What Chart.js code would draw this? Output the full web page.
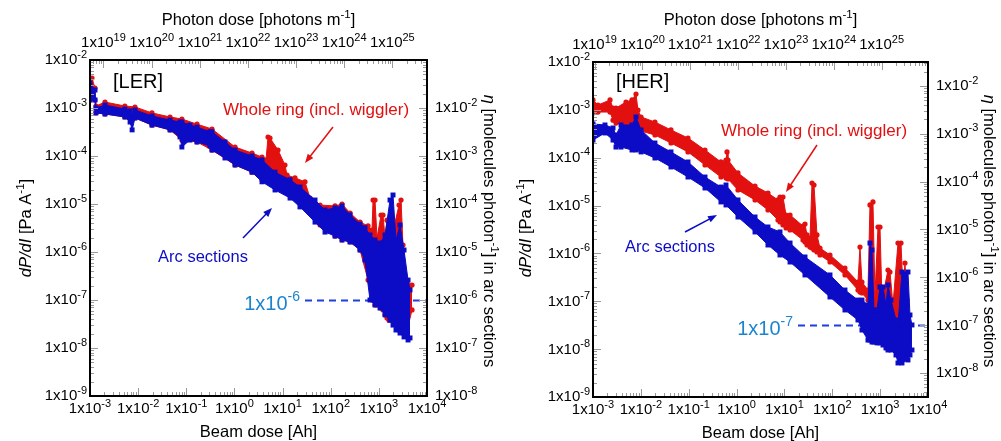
<!DOCTYPE html>
<html lang="en">
<head>
  <meta charset="UTF-8" />
  <title>dP/dI vs beam dose - LER / HER</title>
  <script src="https://cdn.jsdelivr.net/npm/chart.js"></script>
  <style>
    body { margin: 0; background: #fff; }
    .wrap { position: relative; width: 1001px; height: 441px; }
    canvas { position: absolute; top: 0; }
    #chart-ler { left: 0; }
    #chart-her { left: 500px; }
  </style>
</head>
<body>
  <div class="wrap">
    <canvas id="chart-ler" width="500" height="441"></canvas>
    <canvas id="chart-her" width="501" height="441"></canvas>
  </div>

  <script>
    // tick exponents, labels are drawn as 1x10^e
    const beamDoseExp = [-3, -2, -1, 0, 1, 2, 3, 4];
    const dpdiExp = [-9, -8, -7, -6, -5, -4, -3, -2];
    const photonDoseExp = [19, 20, 21, 22, 23, 24, 25];
    const etaExp = [-8, -7, -6, -5, -4, -3, -2];

    // secondary axes: photons m-1 per Ah, eta per (Pa A-1)
    const lerPhotonPerAh = 5.25e21;
    const herPhotonPerAh = 9.3e21;
    const lerEtaFactor = 10;
    const herEtaFactor = 3.16;

    // LER, arc sections (upper / lower edge of the point cloud)
    const lerArcDose = [1.0e-3, 1.27e-3, 1.33e-3, 2.05e-3, 5.3e-3, 6.8e-3, 7.5e-3, 8.6e-3, 1.94e-2, 4.6e-2,
      7.4e-2, 8.1e-2, 0.119, 0.167, 0.311, 0.342, 0.637, 1.03, 2.32, 3.74,
      6.97, 14.3, 23.0, 47.2, 76.2, 123, 172, 252, 406, 515,
      655, 832, 1057, 1343, 1706, 1968, 2270, 2752, 3333, 4039, 4439];
    const lerArcHigh = [3.3e-3, 2.37e-3, 1.0e-3, 1.15e-3, 9.5e-4, 8.7e-4, 7.1e-4, 9.1e-4, 6.8e-4, 5.6e-4,
      5.1e-4, 5.1e-4, 4.4e-4, 4.0e-4, 3.2e-4, 3.2e-4, 1.96e-4, 1.33e-4, 1.0e-4, 8.3e-5,
      4.6e-5, 3.2e-5, 2.26e-5, 1.21e-5, 7.5e-6, 8.3e-6, 9.1e-6, 5.9e-6, 3.8e-6, 3.2e-6,
      2.26e-6, 1.78e-6, 1.54e-6, 2.26e-6, 1.21e-5, 1.54e-5, 1.78e-6, 3.65e-6, 1.1e-6, 2.6e-7, 1.62e-7];
    const lerArcLow = [1.47e-3, 1.47e-3, 7.9e-4, 7.5e-4, 6.5e-4, 5.1e-4, 3.5e-4, 6.2e-4, 4.4e-4, 3.5e-4,
      2.5e-4, 1.54e-4, 2.15e-4, 1.96e-4, 1.62e-4, 1.33e-4, 9.1e-5, 6.5e-5, 4.6e-5, 2.9e-5,
      1.96e-5, 1.33e-5, 8.7e-6, 4.2e-6, 2.6e-6, 2.15e-6, 1.78e-6, 1.62e-6, 1.1e-6, 6.8e-7,
      1.0e-7, 7.9e-8, 6.8e-8, 4.9e-8, 3.8e-8, 3.0e-8, 2.37e-8, 2.05e-8, 1.7e-8, 1.47e-8, 1.62e-8];

    // LER, whole ring
    const lerRingDose = [1.0e-3, 1.10e-3, 1.27e-3, 1.33e-3, 2.05e-3, 5.3e-3, 8.6e-3, 1.94e-2, 4.6e-2, 8.1e-2,
      0.167, 0.342, 1.03, 2.32, 3.74, 4.53, 4.99, 5.48, 8.04, 11.2,
      12.4, 18.1, 29.2, 37.2, 60.0, 123, 172, 252, 406, 596,
      721, 757, 832, 916, 1109, 1220, 1343, 1476, 1625, 1787,
      2624, 2886, 3175, 3664, 4887];
    const lerRingHigh = [3.8e-3, 4.2e-3, 2.61e-3, 1.1e-3, 1.33e-3, 1.1e-3, 1.05e-3, 7.9e-4, 6.5e-4, 5.9e-4,
      4.6e-4, 3.65e-4, 1.54e-4, 1.15e-4, 9.5e-5, 8.3e-5, 2.49e-4, 2.37e-4, 1.33e-4, 6.5e-5,
      4.0e-5, 3.5e-5, 2.9e-5, 1.33e-5, 9.5e-6, 9.1e-6, 1.0e-5, 6.5e-6, 4.2e-6, 3.5e-6,
      2.87e-6, 1.21e-5, 1.21e-5, 1.96e-6, 5.9e-6, 5.9e-6, 1.96e-6, 4.6e-6, 4.6e-6, 1.78e-6,
      9.5e-6, 1.21e-5, 1.4e-6, 2.6e-7, 2.05e-7];
    const lerRingLow = [1.47e-3, 1.87e-3, 1.47e-3, 7.9e-4, 7.5e-4, 6.5e-4, 6.2e-4, 4.4e-4, 3.5e-4, 2.15e-4,
      1.96e-4, 1.33e-4, 6.5e-5, 4.6e-5, 3.2e-5, 3.5e-5, 5.1e-5, 4.6e-5, 4.0e-5, 3.2e-5,
      1.96e-5, 1.54e-5, 9.5e-6, 7.5e-6, 3.65e-6, 2.15e-6, 1.78e-6, 1.62e-6, 1.1e-6, 2.6e-7,
      1.0e-7, 1.0e-7, 7.9e-8, 7.9e-8, 6.8e-8, 6.2e-8, 4.9e-8, 4.2e-8, 3.8e-8, 3.8e-8,
      2.37e-8, 2.37e-8, 2.05e-8, 1.87e-8, 6.2e-8];

    // HER, arc sections
    const herArcDose = [1.0e-3, 1.78e-3, 2.62e-3, 3.02e-3, 3.85e-3, 6.53e-3, 7.91e-3, 1.01e-2, 1.97e-2, 4.26e-2,
      9.66e-2, 0.219, 0.472, 0.601, 1.07, 2.43, 4.53, 8.07, 13.1, 26.9,
      89.5, 184, 344, 417, 557, 613, 675, 743, 859, 993,
      1146, 1324, 1458, 1686, 2142, 2359, 2860, 3817, 4201, 4627];
    const herArcHigh = [5.07e-4, 4.83e-4, 4.18e-4, 2.98e-4, 4.83e-4, 4.83e-4, 7.1e-4, 3.8e-4, 2.03e-4, 1.32e-4,
      8.15e-5, 3.95e-5, 2.44e-5, 2.69e-5, 1.31e-5, 5.77e-6, 3.57e-6, 2.81e-6, 1.65e-6, 8.43e-7,
      3.55e-7, 1.72e-7, 1.06e-7, 1.06e-7, 8.37e-8, 1.65e-6, 1.18e-6, 6.58e-8, 6.58e-8, 1.99e-7,
      1.99e-7, 8.37e-8, 2.19e-7, 1.06e-7, 4.07e-8, 3.2e-8, 4.09e-7, 4.09e-7, 5.17e-8, 3.2e-8];
    const herArcLow = [2.34e-4, 3.29e-4, 2.34e-4, 1.67e-4, 1.67e-4, 1.45e-4, 1.45e-4, 1.32e-4, 9.86e-5, 6.4e-5,
      3.95e-5, 2.33e-5, 1.19e-5, 1.03e-5, 5.77e-6, 2.81e-6, 1.5e-6, 9.28e-7, 6.62e-7, 3.55e-7,
      1.23e-7, 6.58e-8, 4.07e-8, 2.51e-8, 1.55e-8, 1.55e-8, 1.41e-8, 1.41e-8, 1.35e-8, 1.35e-8,
      1.22e-8, 1.06e-8, 9.6e-9, 9.6e-9, 7.55e-9, 5.14e-9, 5.14e-9, 5.94e-9, 7.55e-9, 9.6e-9];

    // HER, whole ring
    const herRingDose = [1.0e-3, 1.27e-3, 2.27e-3, 2.62e-3, 3.02e-3, 4.89e-3, 6.53e-3, 7.91e-3, 8.71e-3, 1.01e-2,
      1.97e-2, 4.26e-2, 9.66e-2, 0.219, 0.472, 0.601, 0.631, 0.662, 1.07, 2.43,
      4.53, 7.33, 8.07, 9.33, 10.8, 13.1, 24.4, 26.9, 29.6, 34.2,
      37.7, 41.5, 47.9, 55.3, 89.5, 184, 344, 379, 417, 557,
      613, 708, 780, 902, 993, 1093, 1458, 1606, 1854, 2359,
      2729, 3000, 3304, 3640];
    const herRingHigh = [1.61e-3, 1.26e-3, 1.61e-3, 1.09e-3, 1.09e-3, 1.46e-3, 1.61e-3, 2.14e-3, 9.93e-4, 7.1e-4,
      5.57e-4, 3.8e-4, 2.58e-4, 1.45e-4, 8.15e-5, 8.96e-5, 1.32e-4, 8.96e-5, 4.8e-5, 2.56e-5,
      1.83e-5, 1.31e-5, 1.51e-5, 1.51e-5, 6.36e-6, 6.36e-6, 3.74e-6, 4.12e-6, 2.43e-6, 2.1e-6,
      2.96e-5, 2.69e-5, 2.43e-6, 1.3e-6, 9.28e-7, 4.96e-7, 2.53e-7, 1.36e-6, 2.53e-7, 1.72e-7,
      1.03e-5, 1.19e-5, 1.36e-7, 3.57e-6, 3.57e-6, 1.06e-7, 4.51e-7, 4.09e-7, 8.37e-8, 1.65e-6,
      1.65e-6, 1.72e-7, 6.31e-7, 1.06e-7];
    const herRingLow = [8.6e-4, 9.0e-4, 9.0e-4, 6.1e-4, 5.3e-4, 4.6e-4, 4.18e-4, 3.98e-4, 3.8e-4, 3.61e-4,
      2.98e-4, 2.03e-4, 1.32e-4, 7.05e-5, 3.95e-5, 3.77e-5, 3.77e-5, 3.59e-5, 2.12e-5, 1.31e-5,
      8.09e-6, 5.0e-6, 4.54e-6, 3.93e-6, 3.4e-6, 3.09e-6, 1.91e-6, 1.73e-6, 1.5e-6, 1.36e-6,
      1.3e-6, 1.18e-6, 1.07e-6, 9.28e-7, 6.62e-7, 3.55e-7, 1.72e-7, 1.56e-7, 1.49e-7, 1.06e-7,
      8.37e-8, 8.37e-8, 6.58e-8, 5.17e-8, 4.48e-8, 4.07e-8, 3.2e-8, 2.77e-8, 2.51e-8, 1.98e-8,
      1.8e-8, 1.71e-8, 1.55e-8, 1.55e-8];

    const FONT = '"Liberation Sans", Arial, Helvetica, sans-serif';
    const RED = '#e31010';
    const BLUE = '#0c0cc6';
    const SKY = '#1c84cf';

    // text with italic / superscript pieces
    function richText(ctx, parts, x, y, size, opts = {}) {
      const align = opts.align || 'center';
      const supSize = opts.supSize || size * 0.7;
      ctx.save();
      ctx.translate(x, y);
      if (opts.rot) ctx.rotate(opts.rot);
      ctx.fillStyle = opts.color || '#000';
      ctx.textAlign = 'left';
      ctx.textBaseline = 'alphabetic';
      const fonts = parts.map(p => (p.i ? 'italic ' : '') + (p.sup ? supSize : size) + 'px ' + FONT);
      const widths = parts.map((p, k) => { ctx.font = fonts[k]; return ctx.measureText(p.t).width; });
      const w = widths.reduce((a, b) => a + b, 0);
      let cx = align === 'right' ? -w : align === 'left' ? 0 : -w / 2;
      parts.forEach((p, k) => {
        ctx.font = fonts[k];
        ctx.fillText(p.t, cx, size * 0.36 - (p.sup ? size * 0.45 : 0));
        cx += widths[k];
      });
      ctx.restore();
    }

    function pow10(e) {
      return [{ t: '1x10' }, { t: String(e), sup: true }];
    }

    function arrow(ctx, x1, y1, x2, y2, color) {
      const a = Math.atan2(y2 - y1, x2 - x1);
      ctx.save();
      ctx.strokeStyle = color;
      ctx.fillStyle = color;
      ctx.lineWidth = 1.5;
      ctx.beginPath();
      ctx.moveTo(x1, y1);
      ctx.lineTo(x2 - 6 * Math.cos(a), y2 - 6 * Math.sin(a));
      ctx.stroke();
      ctx.beginPath();
      ctx.moveTo(x2, y2);
      ctx.lineTo(x2 - 9 * Math.cos(a) + 3.5 * Math.sin(a), y2 - 9 * Math.sin(a) - 3.5 * Math.cos(a));
      ctx.lineTo(x2 - 9 * Math.cos(a) - 3.5 * Math.sin(a), y2 - 9 * Math.sin(a) + 3.5 * Math.cos(a));
      ctx.closePath();
      ctx.fill();
      ctx.restore();
    }

    // log ticks (major + minor) of one axis, pointing into the plot
    function logTicks(ctx, scale, horizontal, edge, dir) {
      const lo = Math.floor(Math.log10(scale.min)), hi = Math.ceil(Math.log10(scale.max));
      ctx.save();
      ctx.strokeStyle = '#9a9a9a';
      ctx.lineWidth = 1;
      ctx.beginPath();
      for (let e = lo; e <= hi; e++) {
        for (let m = 1; m <= 9; m++) {
          const v = m * Math.pow(10, e);
          if (v < scale.min * 0.999 || v > scale.max * 1.001) continue;
          const p = Math.round(scale.getPixelForValue(v)) + 0.5;
          const len = m === 1 ? 8 : 4;
          if (horizontal) { ctx.moveTo(p, edge); ctx.lineTo(p, edge + dir * len); }
          else { ctx.moveTo(edge, p); ctx.lineTo(edge + dir * len, p); }
        }
      }
      ctx.stroke();
      ctx.restore();
    }

    function band(xs, hi, lo, color, style, radius) {
      const common = {
        borderColor: color, backgroundColor: color, borderWidth: 1,
        pointStyle: style, pointRadius: radius, pointBorderWidth: 0,
        pointBackgroundColor: color, tension: 0
      };
      return [
        { ...common, data: xs.map((x, i) => ({ x, y: hi[i] })), fill: '+1' },
        { ...common, data: xs.map((x, i) => ({ x, y: lo[i] })), fill: false }
      ];
    }

    function makeChart(cfg) {
      const decor = {
        id: 'decor',
        beforeDatasetsDraw(chart) {
          const ctx = chart.ctx, a = chart.chartArea;
          const y = Math.round(chart.scales.yRight.getPixelForValue(cfg.markEta)) + 0.5;
          ctx.save();
          ctx.strokeStyle = '#1f3fe0';
          ctx.lineWidth = 2;
          ctx.setLineDash([7, 5]);
          ctx.beginPath();
          ctx.moveTo(cfg.markX + 5, y);
          ctx.lineTo(a.right, y);
          ctx.stroke();
          ctx.restore();
          richText(ctx, pow10(cfg.markExp), cfg.markX, y + 2, 20, { align: 'right', color: SKY, supSize: 14 });
        },
        afterDatasetsDraw(chart) {
          const ctx = chart.ctx, a = chart.chartArea, s = chart.scales;
          logTicks(ctx, s.x, true, a.bottom, -1);
          logTicks(ctx, s.xTop, true, a.top, 1);
          logTicks(ctx, s.y, false, a.left, 1);
          logTicks(ctx, s.yRight, false, a.right, -1);

          ctx.save();
          ctx.strokeStyle = '#000';
          ctx.lineWidth = 2;
          ctx.strokeRect(a.left, a.top, a.right - a.left, a.bottom - a.top);
          ctx.restore();

          beamDoseExp.forEach(e => richText(ctx, pow10(e), s.x.getPixelForValue(Math.pow(10, e)), a.bottom + 12, 15, { supSize: 11 }));
          photonDoseExp.forEach(e => richText(ctx, pow10(e), s.xTop.getPixelForValue(Math.pow(10, e)), a.top - 18, 15, { supSize: 11 }));
          dpdiExp.forEach(e => richText(ctx, pow10(e), a.left - 3, s.y.getPixelForValue(Math.pow(10, e)) - 1, 15, { align: 'right', supSize: 11 }));
          etaExp.forEach(e => richText(ctx, pow10(e), a.right + 8, s.yRight.getPixelForValue(Math.pow(10, e)) - 1, 15, { align: 'left', supSize: 11 }));

          const cx = (a.left + a.right) / 2;
          richText(ctx, [{ t: 'Beam dose [Ah]' }], cx, a.bottom + 35, 16.5);
          richText(ctx, [{ t: 'Photon dose [photons m' }, { t: '-1', sup: true }, { t: ']' }], cx, 19, 16.5);
          richText(ctx, [{ t: 'dP/dI', i: true }, { t: ' [Pa A' }, { t: '-1', sup: true }, { t: ']' }],
            25, 228, 16.5, { rot: -Math.PI / 2 });
          richText(ctx, [{ t: 'η', i: true }, { t: ' [molecules photon' }, { t: '-1', sup: true }, { t: '] in arc sections' }],
            cfg.etaTitleX, 231, 16.5, { rot: Math.PI / 2 });

          richText(ctx, [{ t: cfg.tag }], a.left + 23, 81, 20, { align: 'left' });
          richText(ctx, [{ t: 'Whole ring (incl. wiggler)' }], cfg.ringText[0], cfg.ringText[1], 17, { color: RED });
          richText(ctx, [{ t: 'Arc sections' }], cfg.arcText[0], cfg.arcText[1], 16.5, { color: BLUE });
          arrow(ctx, ...cfg.ringArrow, RED);
          arrow(ctx, ...cfg.arcArrow, BLUE);
        }
      };

      return new Chart(document.getElementById(cfg.canvas), {
        type: 'line',
        data: {
          datasets: [
            ...band(cfg.arcDose, cfg.arcHigh, cfg.arcLow, BLUE, 'rect', 3.5),
            ...band(cfg.ringDose, cfg.ringHigh, cfg.ringLow, RED, 'circle', 2.6)
          ]
        },
        options: {
          responsive: false,
          animation: false,
          layout: { padding: cfg.padding },
          plugins: { legend: { display: false }, tooltip: { enabled: false } },
          scales: {
            x: { type: 'logarithmic', min: 1e-3, max: 1e4, display: false },
            y: { type: 'logarithmic', min: 1e-9, max: 1e-2, display: false },
            xTop: { type: 'logarithmic', position: 'top', min: 1e-3 * cfg.photonPerAh, max: 1e4 * cfg.photonPerAh, display: false },
            yRight: { type: 'logarithmic', position: 'right', min: 1e-9 * cfg.etaFactor, max: 1e-2 * cfg.etaFactor, display: false }
          }
        },
        plugins: [decor]
      });
    }

    makeChart({
      canvas: 'chart-ler', tag: '[LER]',
      padding: { left: 90, right: 73, top: 60, bottom: 45 },
      photonPerAh: lerPhotonPerAh, etaFactor: lerEtaFactor,
      arcDose: lerArcDose, arcHigh: lerArcHigh, arcLow: lerArcLow,
      ringDose: lerRingDose, ringHigh: lerRingHigh, ringLow: lerRingLow,
      markEta: 1e-6, markExp: -6, markX: 300,
      etaTitleX: 490,
      ringText: [316, 109], arcText: [203, 256],
      ringArrow: [333, 127, 305, 163], arcArrow: [243, 238, 272, 208]
    });

    makeChart({
      canvas: 'chart-her', tag: '[HER]',
      padding: { left: 93, right: 73, top: 62, bottom: 44 },
      photonPerAh: herPhotonPerAh, etaFactor: herEtaFactor,
      arcDose: herArcDose, arcHigh: herArcHigh, arcLow: herArcLow,
      ringDose: herRingDose, ringHigh: herRingHigh, ringLow: herRingLow,
      markEta: 1e-7, markExp: -7, markX: 293,
      etaTitleX: 490,
      ringText: [314, 130], arcText: [170, 246],
      ringArrow: [317, 145, 286, 192], arcArrow: [185, 232, 217, 215]
    });
  </script>
</body>
</html>
